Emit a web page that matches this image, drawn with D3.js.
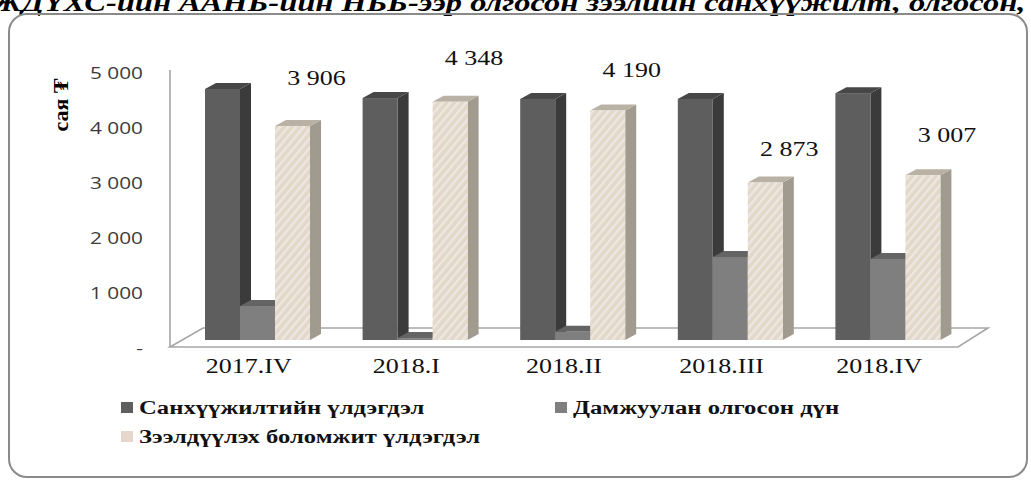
<!DOCTYPE html>
<html>
<head>
<meta charset="utf-8">
<script src="https://cdn.jsdelivr.net/npm/d3@7"></script>
<style>
  body { margin: 0; background: #fff; }
  svg { display: block; }
  .serif { font-family: "Liberation Serif", "Times New Roman", "DejaVu Serif", serif; }
</style>
</head>
<body>
<script>
// _____________ data
var categories = ['2017.IV', '2018.I', '2018.II', '2018.III', '2018.IV']
var seriesNames = ['Санхүүжилтийн үлдэгдэл', 'Дамжуулан олгосон дүн', 'Зээлдүүлэх боломжит үлдэгдэл']
var financing = [4580, 4415, 4400, 4400, 4505]
var transferred = [620, 35, 150, 1515, 1480]
var available = [3906, 4348, 4190, 2873, 3007]
var yTicks = [0, 1000, 2000, 3000, 4000, 5000]
var titleText = 'ЖДҮХС-ийн ААНБ-ийн НББ-ээр олгосон зээлийн санхүүжилт, олгосон, дамжуулан олгосон дүн, сая төгрөг'

var W = 1031, H = 481
var sx = 1.3 // the picture is stretched sideways

var svg = d3.select('body').append('svg')
  .attr('width', W).attr('height', H)

var defs = svg.append('defs')
var pat = defs.append('pattern')
  .attr('id', 'hatch')
  .attr('patternUnits', 'userSpaceOnUse')
  .attr('width', 6).attr('height', 6)
  .attr('patternTransform', 'rotate(40)')
pat.append('rect').attr('width', 6).attr('height', 6).attr('fill', '#e1d9c7')
pat.append('rect').attr('width', 2.4).attr('height', 6).attr('fill', '#f0e5e2')

// _____________ scales
var base = 340
var y = d3.scaleLinear().domain([0, 5000]).range([base, base - 274])
var yLab = d3.scaleLinear().domain([0, 5000]).range([348, 73])
var x0 = d3.scaleBand().domain(categories).range([170, 958])
var x1 = d3.scaleBand().domain(d3.range(3)).range([0, 105])

var depth = { dx: 11, dy: 6 }
var floorD = { dx: 31, dy: 19, front: 347 }

var looks = [
  { front: '#5e5e5e', side: '#3b3b3b', top: '#474747' },
  { front: '#7f7f7f', side: '#5a5a5a', top: '#646464' },
  { front: 'url(#hatch)', side: '#a19a8e', top: '#b9b1a3' }
]
var legendSwatch = ['#5e5e5e', '#7f7f7f', '#e6d6cc']

// _____________ title, cut off at the top
svg.append('text')
  .attr('class', 'serif')
  .attr('transform', 'translate(-8,11) scale(' + sx + ',1)')
  .style('font-weight', 'bold')
  .style('font-style', 'italic')
  .style('font-size', '25px')
  .text(titleText)

// _____________ frame
svg.append('rect')
  .attr('x', 9).attr('y', 14)
  .attr('width', 1018).attr('height', 463)
  .attr('rx', 18).attr('ry', 18)
  .attr('fill', 'none')
  .attr('stroke', '#8a8a8a')
  .attr('stroke-width', 2)

// _____________ floor + wall line
var r0 = x0.range()
svg.append('polygon')
  .attr('points', [
    [r0[0], floorD.front],
    [r0[1], floorD.front],
    [r0[1] + floorD.dx - 1, floorD.front - floorD.dy],
    [r0[0] + floorD.dx + 2, floorD.front - floorD.dy]
  ].join(' '))
  .attr('fill', '#fff')
  .attr('stroke', '#a6a6a6')
  .attr('stroke-width', 1.6)

svg.append('line')
  .attr('x1', r0[0]).attr('x2', r0[0])
  .attr('y1', yLab(5000) - 3).attr('y2', floorD.front)
  .attr('stroke', '#a6a6a6').attr('stroke-width', 1.6)

// _____________ y axis labels
var fmt = function (d) { return d == 0 ? '-' : d3.format(',')(d).replace(',', ' ') }
svg.append('g').selectAll('text')
  .data(yTicks)
  .enter().append('text')
    .attr('transform', function (d) { return 'translate(143,' + (yLab(d) + 6) + ') scale(' + sx + ',1)' })
    .attr('text-anchor', 'end')
    .style('font-family', 'Open Sans')
    .style('font-size', '16px')
    .style('fill', '#3a3a3a')
    .text(fmt)

svg.append('text')
  .attr('class', 'serif')
  .attr('transform', 'translate(68,105) rotate(-90)')
  .attr('text-anchor', 'middle')
  .style('font-weight', 'bold')
  .style('font-size', '22px')
  .text('сая ₮')

// _____________ bars
var rows = categories.map(function (c, i) {
  return { cat: c, vals: [financing[i], transferred[i], available[i]] }
})
var bw = x1.bandwidth()

var groups = svg.append('g').selectAll('g')
  .data(rows)
  .enter().append('g')
    .attr('transform', function (d) { return 'translate(' + (x0(d.cat) + 35) + ',0)' })

groups.each(function (d) {
  var g = d3.select(this)
  d.vals.forEach(function (v, s) {
    var x = x1(s), top = y(v)
    var lk = looks[s]
    g.append('polygon')
      .attr('points', [[x + bw, top], [x + bw + depth.dx, top - depth.dy], [x + bw + depth.dx, base - depth.dy], [x + bw, base]].join(' '))
      .attr('fill', lk.side)
    g.append('polygon')
      .attr('points', [[x, top], [x + depth.dx, top - depth.dy], [x + bw + depth.dx, top - depth.dy], [x + bw, top]].join(' '))
      .attr('fill', lk.top)
    g.append('rect')
      .attr('x', x).attr('y', top)
      .attr('width', bw).attr('height', base - top)
      .attr('fill', lk.front)
  })
})

// _____________ value labels on the third series
var labOff = [-4, 0, 4, 10, 4]
svg.append('g').selectAll('text')
  .data(rows)
  .enter().append('text')
    .attr('class', 'serif')
    .attr('transform', function (d, i) {
      var cx = x0(d.cat) + 35 + x1(2) + bw / 2 + 24
      return 'translate(' + cx + ',' + (y(d.vals[2]) - 37 + labOff[i]) + ') scale(' + sx + ',1)'
    })
    .attr('text-anchor', 'middle')
    .style('font-size', '20px')
    .style('fill', '#111')
    .text(function (d) { return fmt(d.vals[2]) })

// _____________ category labels
svg.append('g').selectAll('text')
  .data(categories)
  .enter().append('text')
    .attr('class', 'serif')
    .attr('transform', function (d) { return 'translate(' + (x0(d) + x0.bandwidth() / 2) + ',373) scale(' + sx + ',1)' })
    .attr('text-anchor', 'middle')
    .style('font-size', '20px')
    .style('fill', '#111')
    .text(function (d) { return d })

// _____________ legend
var legPos = [[121, 408], [555, 408], [121, 437]]
var leg = svg.append('g').selectAll('g')
  .data(seriesNames)
  .enter().append('g')
    .attr('transform', function (d, i) { return 'translate(' + legPos[i][0] + ',' + legPos[i][1] + ')' })
leg.append('rect')
  .attr('x', 0).attr('y', -6)
  .attr('width', 12).attr('height', 11)
  .attr('fill', function (d, i) { return legendSwatch[i] })
leg.append('text')
  .attr('class', 'serif')
  .attr('transform', 'translate(18,6) scale(' + sx + ',1)')
  .style('font-weight', 'bold')
  .style('font-size', '19px')
  .style('fill', '#111')
  .text(function (d) { return d })
</script>
</body>
</html>
